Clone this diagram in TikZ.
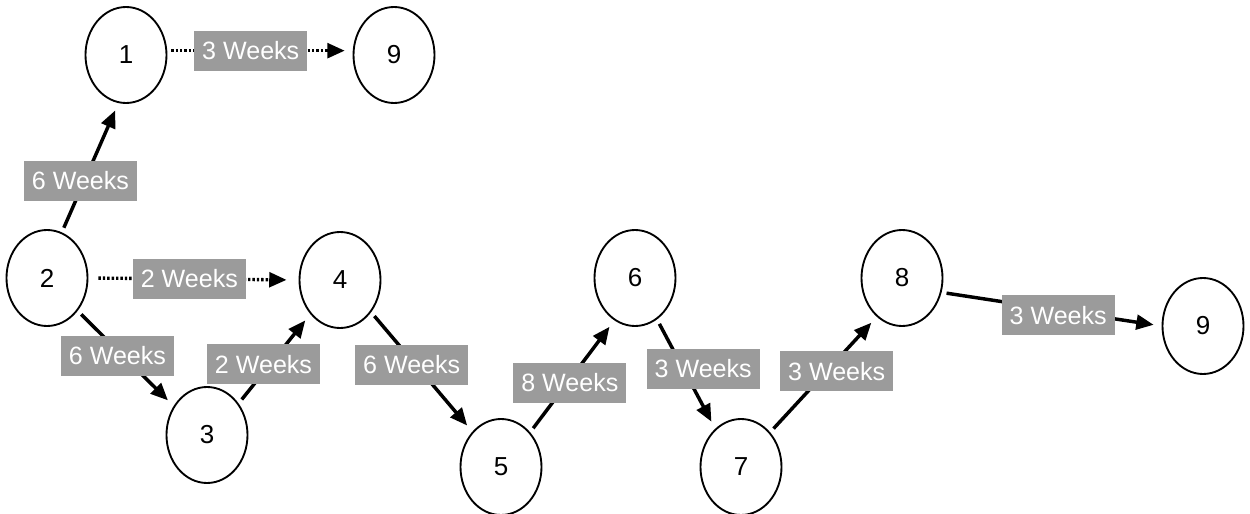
\documentclass[tikz,border=0pt]{standalone}
\usepackage{fontspec}
\setmainfont{Liberation Sans}
\usetikzlibrary{shapes.geometric,arrows.meta}
\definecolor{tagfill}{RGB}{155,155,155}
\begin{document}
\begin{tikzpicture}[x=0.75pt,y=-0.75pt,
  event/.style={ellipse,draw,line width=1.4pt,minimum width=60.75pt,
    minimum height=72pt,inner sep=0pt,font=\fontsize{19.5}{21}\selectfont},
  tag/.style={fill=tagfill,text=white,minimum width=84.75pt,minimum height=30pt,
    inner sep=0pt,font=\fontsize{18.8}{20}\selectfont},
  link/.style={line width=2.6pt,-{Triangle[length=13pt,width=11pt]},
    shorten <=3.75pt,shorten >=6pt},
  dotlink/.style={link,line width=2.5pt,dash pattern=on 1.8pt off 1.5pt}]
\useasboundingbox (0,0) rectangle (1250,514);

% events
\node[event] (n1)  at (126,55)  {1};
\node[event] (n9a) at (394,55)  {9};
\node[event] (n2)  at (47,278)  {2};
\node[event] (n3)  at (207,435) {3};
\node[event] (n4)  at (340,280) {4};
\node[event] (n5)  at (501,467) {5};
\node[event] (n6)  at (635,278) {6};
\node[event] (n7)  at (741,467) {7};
\node[event] (n8)  at (902,278) {8};
\node[event] (n9b) at (1203,326) {9};

% activities
\draw[dotlink,shorten <=3pt] (n1.6) -- node[tag,pos=0.45]{3 Weeks} (n9a.174);
\draw[link] (n2.72) -- node[tag,pos=0.4,xshift=-3pt]{6 Weeks} (n1.-99);
\draw[dotlink,shorten <=7.5pt,shorten >=9pt] (n2.east) -- node[tag,pos=0.48]{2 Weeks} (n4.west);
\draw[link] (n2.-47) -- node[tag,pos=0.47,xshift=-4pt]{6 Weeks} (n3.139);
\draw[link] (n3.45) -- node[tag,pos=0.44,xshift=-5pt]{2 Weeks} (n4.-131);
\draw[link] (n4.-46) -- node[tag,pos=0.44,xshift=-3pt]{6 Weeks} (n5.129);
\draw[link] (n5.50) -- node[tag,pos=0.44,xshift=2pt]{8 Weeks} (n6.-116.6);
\draw[link] (n6.-62) -- node[tag,pos=0.45,xshift=15pt]{3 Weeks} (n7.124.6);
\draw[link] (n7.50) -- node[tag,pos=0.53,xshift=7.5pt]{3 Weeks} (n8.-123.7);
\draw[link] (n8.-20) -- node[tag,pos=0.53,yshift=-3.75pt]{3 Weeks} (n9b.west);
\end{tikzpicture}
\end{document}
